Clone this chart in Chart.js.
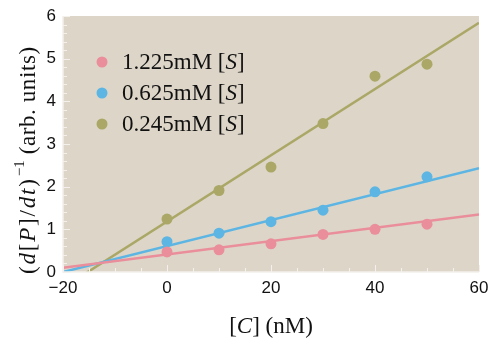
<!DOCTYPE html>
<html lang="en">
<head>
<meta charset="UTF-8">
<title>Lineweaver-Burk style plot</title>
<script src="https://cdn.jsdelivr.net/npm/chart.js@4"></script>
<style>
  html, body { margin: 0; padding: 0; background: #fff; }
  #wrap { width: 488px; height: 338px; position: relative; }
</style>
</head>
<body>
<div id="wrap"><canvas id="plot"></canvas></div>
<script>
// data
const concentrations = [0, 10, 20, 30, 40, 50];
const seriesNames = ["1.225mM", "0.625mM", "0.245mM"];
const rate1225 = [0.47, 0.52, 0.66, 0.88, 1.00, 1.12];
const rate0625 = [0.71, 0.91, 1.18, 1.45, 1.88, 2.23];
const rate0245 = [1.24, 1.91, 2.46, 3.48, 4.59, 4.87];
// fitted lines, given at the ends of the x range
const fitX = [-20, 60];
const fit1225 = [0.10, 1.35];
const fit0625 = [0.00, 2.43];
const fit0245 = [-0.37, 5.84];
const xTicks = [-20, 0, 20, 40, 60];
const yTicks = [0, 1, 2, 3, 4, 5, 6];

const colors = ["#ea8e9b", "#5db5e3", "#aaa767"];
const bgColor = "#ddd6c8";
const serif = "'Liberation Serif', 'DejaVu Serif', serif";
const sans = "'Liberation Sans', Arial, sans-serif";
const titleSize = 23;

const pts = arr => arr.map((v, i) => ({ x: concentrations[i], y: v }));
const line = arr => arr.map((v, i) => ({ x: fitX[i], y: v }));

const rates = [rate1225, rate0625, rate0245];
const fits = [fit1225, fit0625, fit0245];
const datasets = [];
fits.forEach((f, i) => datasets.push({
  type: 'line', data: line(f), borderColor: colors[i], borderWidth: 2.5,
  pointRadius: 0, fill: false, order: 2
}));
rates.forEach((r, i) => datasets.push({
  type: 'scatter', data: pts(r), backgroundColor: colors[i], borderWidth: 0,
  pointRadius: 5.5, order: 1
}));

// draw text pieces, some italic; spacing spreads extra room between letters
function richText(ctx, parts, x, y, size, align, spacing) {
  spacing = spacing || 0;
  ctx.letterSpacing = spacing + "px";
  let total = 0;
  parts.forEach(p => {
    ctx.font = (p.it ? "italic " : "") + size + "px " + serif;
    p.w = ctx.measureText(p.t).width;
    total += p.w;
  });
  let cx = align === "center" ? x - total / 2 : x;
  ctx.textAlign = "left";
  ctx.textBaseline = "middle";
  parts.forEach(p => {
    ctx.font = (p.it ? "italic " : "") + size + "px " + serif;
    ctx.fillText(p.t, cx, y);
    cx += p.w;
  });
  ctx.letterSpacing = "0px";
  return total;
}

const decor = {
  id: 'decor',
  beforeDraw(chart) {
    const { ctx, chartArea: a } = chart;
    ctx.save();
    ctx.fillStyle = bgColor;
    ctx.fillRect(a.left, a.top, a.right - a.left, a.bottom - a.top);
    ctx.restore();
  },
  afterDatasetsDraw(chart) {
    const { ctx, chartArea: a, scales } = chart;
    const xs = scales.x, ys = scales.y;
    ctx.save();
    // light frame on bottom and left
    ctx.strokeStyle = "#f4f1ec";
    ctx.lineWidth = 1.5;
    ctx.beginPath();
    ctx.moveTo(a.left, a.top); ctx.lineTo(a.left, a.bottom); ctx.lineTo(a.right, a.bottom);
    ctx.stroke();
    ctx.lineWidth = 1;
    // inward ticks
    for (let v = -20; v <= 60; v += 5) {
      const px = Math.round(xs.getPixelForValue(v)) + 0.5;
      const len = v % 20 === 0 ? 7 : 4;
      ctx.beginPath(); ctx.moveTo(px, a.bottom); ctx.lineTo(px, a.bottom - len); ctx.stroke();
    }
    for (let k = 0; k <= 30; k++) {
      const py = Math.round(ys.getPixelForValue(k / 5)) + 0.5;
      const len = k % 5 === 0 ? 7 : 4;
      ctx.beginPath(); ctx.moveTo(a.left, py); ctx.lineTo(a.left + len, py); ctx.stroke();
    }
    // legend
    seriesNames.forEach((n, i) => {
      const y = 62 + i * 31;
      ctx.fillStyle = colors[i];
      ctx.beginPath(); ctx.arc(102, y, 5.5, 0, Math.PI * 2); ctx.fill();
      ctx.fillStyle = "#111";
      richText(ctx, [{ t: n + " [" }, { t: "S", it: true }, { t: "]" }], 122, y + 1, titleSize, "left");
    });
    // axis titles
    richText(ctx, [{ t: "[" }, { t: "C", it: true }, { t: "] (nM)" }], 271, 327, titleSize, "center");
    // y title, rotated; starts at y=274 and runs up
    ctx.translate(29, 274);
    ctx.rotate(-Math.PI / 2);
    const head = [{ t: "(" }, { t: "d", it: true }, { t: "[" }, { t: "P", it: true }, { t: "]/" },
                  { t: "dt", it: true }, { t: ")" }];
    const w1 = richText(ctx, head, 0, 0, 23, "left", 1.8);
    ctx.font = "15px " + serif;
    ctx.fillText("\u22121", w1 + 1, -9);
    const w2 = ctx.measureText("\u22121").width;
    richText(ctx, [{ t: "(arb. units)" }], w1 + w2 + 7, 0, 23, "left", 0.6);
    ctx.restore();
  }
};

new Chart(document.getElementById("plot"), {
  data: { datasets },
  options: {
    responsive: true,
    maintainAspectRatio: false,
    animation: false,
    layout: { padding: { top: 16, right: 9, left: 0, bottom: 0 } },
    plugins: { legend: { display: false }, tooltip: { enabled: false } },
    scales: {
      x: {
        type: 'linear', min: -20, max: 60,
        afterBuildTicks: s => { s.ticks = xTicks.map(v => ({ value: v })); },
        afterFit: s => { s.height = 66; s.paddingLeft = 0; s.paddingRight = 0; },
        grid: { display: false, drawTicks: false },
        border: { display: false },
        ticks: {
          color: "#111", font: { family: sans, size: 17 }, padding: 6,
          maxRotation: 0, callback: v => (v < 0 ? "\u2212" + Math.abs(v) : v)
        }
      },
      y: {
        type: 'linear', min: 0, max: 6,
        afterBuildTicks: s => { s.ticks = yTicks.map(v => ({ value: v })); },
        afterFit: s => { s.width = 63; s.paddingTop = 0; s.paddingBottom = 0; },
        grid: { display: false, drawTicks: false },
        border: { display: false },
        ticks: { color: "#111", font: { family: sans, size: 17 }, padding: 7 }
      }
    }
  },
  plugins: [decor]
});
</script>
</body>
</html>
